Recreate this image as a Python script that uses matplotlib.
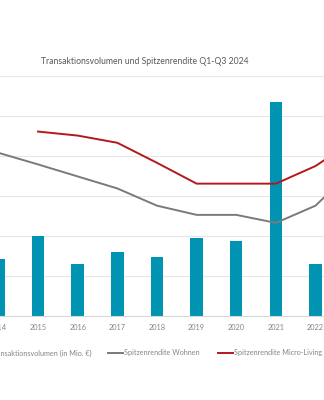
import matplotlib
matplotlib.use("Agg")
import matplotlib.pyplot as plt
from matplotlib.lines import Line2D
from matplotlib.patches import Rectangle

years = ["2014", "2015", "2016", "2017", "2018", "2019", "2020", "2021", "2022", "2023"]
volumen = [710, 1000, 650, 800, 740, 970, 940, 2670, 650, 700]          # Mio. EUR
rendite_wohnen = [4.07, 3.78, 3.48, 3.18, 2.75, 2.52, 2.52, 2.32, 2.75, 3.7]  # %
rendite_micro = [None, 4.6, 4.5, 4.32, 3.82, 3.3, 3.3, 3.3, 3.74, 4.4]        # %

title = "Transaktionsvolumen und Spitzenrendite Q1-Q3 2024"
leg_labels = ["Transaktionsvolumen (in Mio. €)", "Spitzenrendite Wohnen", "Spitzenrendite Micro-Living"]

BAR = "#0093B2"
GREY = "#7A7A7A"
RED = "#B3181E"
TXT = "#858585"
GRID = "#E6E6E6"
FONT = "Lato"

W, H = 324, 400
fig = plt.figure(figsize=(W / 100, H / 100), dpi=100)
plt.rcParams["font.family"] = [FONT, "DejaVu Sans"]

step = 39.64
c0 = -1.6
n = 11
left_px = c0 - step / 2
width_px = n * step
top_px, bot_px = 75.5, 315.8
ax = fig.add_axes([left_px / W, (H - bot_px) / H, width_px / W, (bot_px - top_px) / H])
ax.set_xlim(-0.5, n - 0.5)
ax.set_ylim(0, 3000)
x = list(range(len(years)))
ax.bar(x, volumen, width=12.5 / step, color=BAR, zorder=2)
ax.set_yticks(range(0, 3001, 500))
ax.grid(axis="y", color=GRID, linewidth=0.8, zorder=0)
ax.set_axisbelow(True)
for s in ax.spines.values():
    s.set_visible(False)
ax.spines["bottom"].set_visible(True)
ax.spines["bottom"].set_color("#D9D9D9")
ax.spines["bottom"].set_linewidth(0.8)
ax.set_xticks(x)
ax.set_xticklabels(years, fontsize=5.3, color=TXT)
ax.tick_params(axis="x", length=0, pad=6)
ax.tick_params(axis="y", length=0, labelleft=False)

ax2 = ax.twinx()
ax2.set_ylim(0, 6)
ax2.plot(x, rendite_wohnen, color=GREY, linewidth=1.4, zorder=3)
xm = [i for i, v in zip(x, rendite_micro) if v is not None]
vm = [v for v in rendite_micro if v is not None]
ax2.plot(xm, vm, color=RED, linewidth=1.4, zorder=3)
for s in ax2.spines.values():
    s.set_visible(False)
ax2.tick_params(axis="y", length=0, labelright=False)

fig.text(145 / W, 1 - 61 / H, title, ha="center", va="center", fontsize=6.2, color="#595959")

ly = 1 - 353 / H
fs = 5.25
fig.text(92 / W, ly, leg_labels[0], ha="right", va="center", fontsize=fs, color=TXT)
fig.patches.append(Rectangle((-12 / W, ly - 2.5 / H), 5 / W, 5 / H, transform=fig.transFigure, color=BAR))
fig.lines.append(Line2D([108 / W, 123 / W], [ly, ly], transform=fig.transFigure, color=GREY, linewidth=1.4))
fig.text(124.5 / W, ly, leg_labels[1], ha="left", va="center", fontsize=fs, color=TXT)
fig.lines.append(Line2D([218 / W, 233 / W], [ly, ly], transform=fig.transFigure, color=RED, linewidth=1.4))
fig.text(234 / W, ly, leg_labels[2], ha="left", va="center", fontsize=fs, color=TXT)

fig.savefig("out.png", dpi=100)
